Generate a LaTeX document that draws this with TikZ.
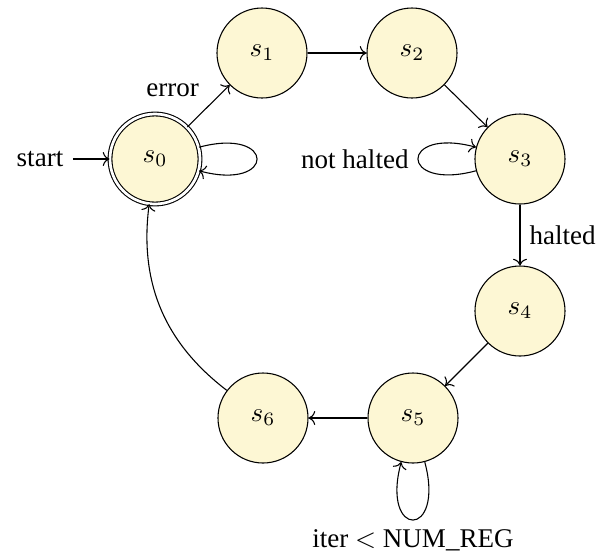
\documentclass[tikz,border=0pt]{standalone}
\usepackage[no-math]{fontspec}
\setmainfont{Liberation Serif}
\usetikzlibrary{arrows.meta}
\definecolor{statefill}{RGB}{253,247,212}
\tikzset{
  statenode/.style={circle,draw,fill=statefill,minimum size=33.3pt,inner sep=0pt},
  acceptnode/.style={statenode,double,double distance=1pt},
  trans/.style={->}
}
\begin{document}
\begin{tikzpicture}[x=0.37pt,y=0.37pt]
\useasboundingbox (0,0) rectangle (607,-550);
\node[acceptnode] (s0) at (155,-159) {$s_0$};
\node[statenode] (s1) at (262,-53) {$s_1$};
\node[statenode] (s2) at (412,-53) {$s_2$};
\node[statenode] (s3) at (520,-159) {$s_3$};
\node[statenode] (s4) at (520,-311) {$s_4$};
\node[statenode] (s5) at (413,-418) {$s_5$};
\node[statenode] (s6) at (263,-418) {$s_6$};
\node (start) at (40,-159) {start};
\draw[trans] (start) -- (s0);
\draw[trans] (s0) -- node[above left] {error} (s1);
\draw[trans] (s0.15) .. controls +(15:80) and +(-15:80) .. (s0.-15);
\draw[trans] (s1) -- (s2);
\draw[trans] (s2) -- (s3);
\draw[trans] (s3.195) .. controls +(195:80) and +(165:80) .. node[left] {not halted} (s3.165);
\draw[trans] (s3) -- node[right] {halted} (s4);
\draw[trans] (s4) -- (s5);
\draw[trans] (s5.285) .. controls +(285:80) and +(255:80) .. node[below] {iter $<$ NUM\_REG} (s5.255);
\draw[trans] (s5) -- (s6);
\draw[trans] (s6) to[bend left=30] (s0);
\end{tikzpicture}
\end{document}
